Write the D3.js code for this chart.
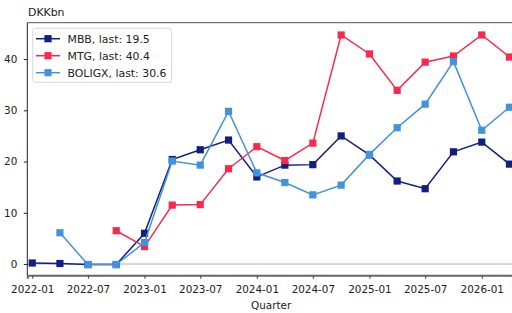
<!DOCTYPE html>
<html>
<head>
<meta charset="UTF-8">
<title>DKKbn</title>
<script src="https://cdn.jsdelivr.net/npm/d3@7"></script>
<style>
  body { margin: 0; background: #fff; }
  svg text { font-family: "DejaVu Sans", sans-serif; fill: #222; }
</style>
</head>
<body>
<script>
// quarters (start of quarter)
var quarters = ["2022-01","2022-04","2022-07","2022-10","2023-01","2023-04","2023-07","2023-10",
                "2024-01","2024-04","2024-07","2024-10","2025-01","2025-04","2025-07","2025-10",
                "2026-01","2026-04"];
var mbb    = [0.2, 0.1, -0.1, -0.1, 6.0, 20.4, 22.3, 24.2, 17.0, 19.3, 19.4, 25.0, 21.3, 16.2, 14.7, 21.9, 23.8, 19.5];
var mtg    = [null, null, null, 6.5, 3.4, 11.5, 11.6, 18.6, 22.9, 20.2, 23.6, 44.7, 41.0, 33.9, 39.4, 40.6, 44.7, 40.4];
var boligx = [null, 6.1, -0.1, -0.1, 4.2, 20.1, 19.3, 29.8, 17.8, 15.9, 13.5, 15.4, 21.4, 26.6, 31.2, 39.5, 26.1, 30.6];
var names  = ["MBB", "MTG", "BOLIGX"];
var colors = ["#111f80", "#f72a4e", "#4392de"];
var yTicks = [0, 10, 20, 30, 40];

var W = 512, H = 313;
var mLeft = 27.3, mRight = 515, mTop = 22.7, mBottom = 275.3;
var parse = d3.timeParse("%Y-%m");
var dates = quarters.map(parse);

var svg = d3.select("body").append("svg").attr("width", W).attr("height", H);

var x = d3.scaleTime()
    .domain([new Date(2021, 11, 16), new Date(2026, 3, 19)])
    .range([mLeft, mRight]);
var y = d3.scaleLinear().domain([-2.2, 47.1]).range([mBottom, mTop]);

// zero line
svg.append("line")
    .attr("x1", mLeft).attr("x2", mRight)
    .attr("y1", y(0)).attr("y2", y(0))
    .attr("stroke", "#b0b0b0").attr("stroke-width", 1);

// spines
svg.append("line").attr("x1", mLeft).attr("x2", mRight).attr("y1", mTop).attr("y2", mTop)
    .attr("stroke", "#555").attr("stroke-width", 1);
svg.append("line").attr("x1", mLeft).attr("x2", mLeft).attr("y1", mTop).attr("y2", mBottom)
    .attr("stroke", "#222").attr("stroke-width", 1);

var xAxis = svg.append("g").attr("transform", "translate(0," + mBottom + ")")
    .call(d3.axisBottom(x).ticks(d3.timeMonth.every(6)).tickFormat(d3.timeFormat("%Y-%m"))
        .tickSize(3.5).tickPadding(7));
xAxis.select(".domain").attr("stroke", "#666").attr("stroke-width", 2);
xAxis.selectAll(".tick line").attr("stroke", "#444");
xAxis.selectAll("text").attr("font-size", 10.4).attr("fill", "#222");

var yAxis = svg.append("g").attr("transform", "translate(" + mLeft + ",0)")
    .call(d3.axisLeft(y).tickValues(yTicks).tickSize(3.5).tickPadding(6.5));
yAxis.select(".domain").remove();
yAxis.selectAll(".tick line").attr("stroke", "#222");
yAxis.selectAll("text").attr("font-size", 10.4).attr("fill", "#222");

svg.append("text").attr("x", 28).attr("y", 16).attr("font-size", 10.9).text("DKKbn");
svg.append("text").attr("x", (mLeft + mRight) / 2).attr("y", 309.3).attr("text-anchor", "middle")
    .attr("font-size", 10.4).text("Quarter");

var series = [mbb, mtg, boligx];
var line = d3.line()
    .defined(function(d) { return d.v !== null; })
    .x(function(d) { return x(d.date); })
    .y(function(d) { return y(d.v); });

var plot = svg.append("g");
series.forEach(function(vals, k) {
    var pts = vals.map(function(v, i) { return {date: dates[i], v: v}; });
    plot.append("path").datum(pts)
        .attr("d", line).attr("fill", "none")
        .attr("stroke", colors[k]).attr("stroke-width", 1.5);
    plot.selectAll(".m" + k).data(pts.filter(function(d) { return d.v !== null; }))
        .enter().append("rect").attr("class", "m" + k)
        .attr("x", function(d) { return x(d.date) - 3.6; })
        .attr("y", function(d) { return y(d.v) - 3.6; })
        .attr("width", 7.2).attr("height", 7.2)
        .attr("fill", colors[k]);
});

// legend
var lg = svg.append("g").attr("transform", "translate(32.7,28.3)");
lg.append("rect").attr("width", 139).attr("height", 54).attr("rx", 2.5)
    .attr("fill", "#fff").attr("fill-opacity", 0.85)
    .attr("stroke", "#d8d8d8").attr("stroke-width", 1);
names.forEach(function(n, k) {
    var vals = series[k];
    var last = vals[vals.length - 1];
    var row = lg.append("g").attr("transform", "translate(0," + (10.4 + k * 17) + ")");
    row.append("line").attr("x1", 3.3).attr("x2", 27.3).attr("y1", 0).attr("y2", 0)
        .attr("stroke", colors[k]).attr("stroke-width", 1.5);
    row.append("rect").attr("x", 15.3 - 3.6).attr("y", -3.6).attr("width", 7.2).attr("height", 7.2)
        .attr("fill", colors[k]);
    row.append("text").attr("x", 34.8).attr("y", 4).attr("font-size", 10.9)
        .text(n + ", last: " + last.toFixed(1));
});
</script>
</body>
</html>
